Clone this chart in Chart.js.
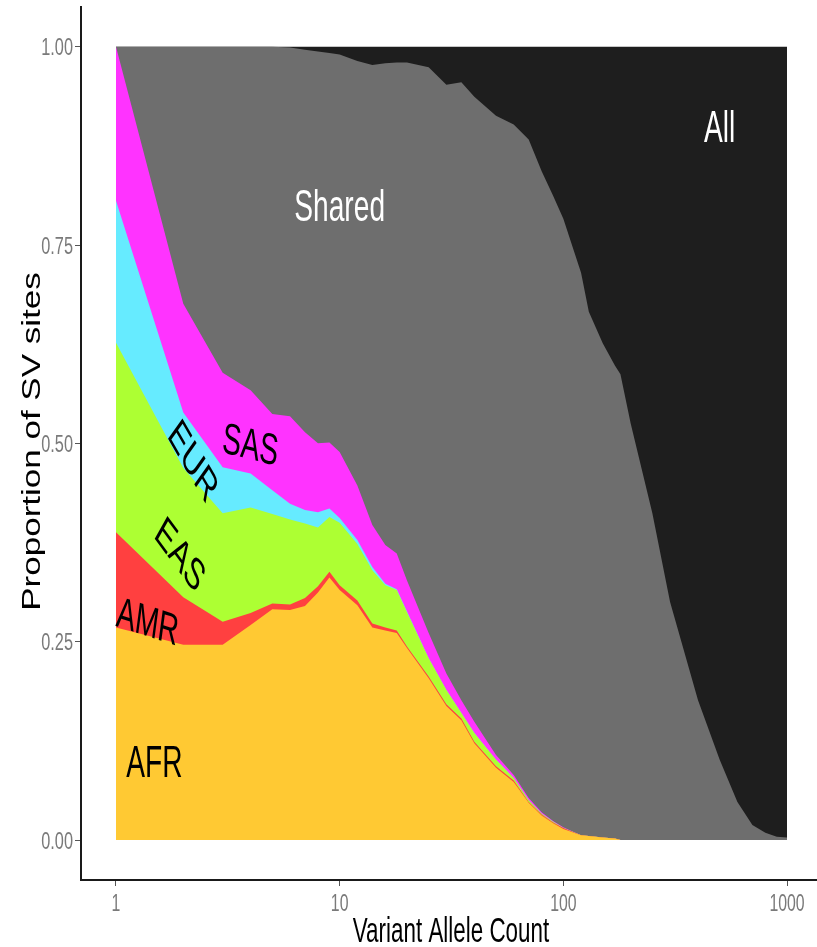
<!DOCTYPE html>
<html>
<head>
<meta charset="utf-8">
<script src="https://cdn.jsdelivr.net/npm/chart.js@4/dist/chart.umd.min.js"></script>
<style>
  html, body { margin: 0; padding: 0; background: #ffffff; overflow: hidden; }
  #wrap { position: relative; width: 817px; height: 947px; }
</style>
</head>
<body>
<div id="wrap"><canvas id="c" width="817" height="947"></canvas></div>
<script>
// Variant allele count (x, log scale)
const alleleCount = [1, 2, 3, 4, 5, 6, 7, 8, 9, 10,
                     12, 14, 16, 18, 20, 25, 30, 35, 40,
                     50, 60, 70, 80, 90, 100, 120, 130, 150, 170, 180,
                     200, 250, 300, 400, 500, 600, 700, 800, 900, 1000];

// Proportion of SV sites in each class, stacked bottom to top
const afr = [0.268, 0.246, 0.246, 0.271, 0.291, 0.290, 0.295, 0.312, 0.331, 0.315,
             0.296, 0.268, 0.264, 0.261, 0.242, 0.204, 0.169, 0.151, 0.122,
             0.091, 0.073, 0.047, 0.031, 0.021, 0.014, 0.006, 0.005, 0.003, 0.002, 0,
             0, 0, 0, 0, 0, 0, 0, 0, 0, 0];
const amr = [0.120, 0.060, 0.029, 0.015, 0.007, 0.007, 0.010, 0.008, 0.007, 0.006,
             0.006, 0.005, 0.004, 0.003, 0.002, 0.002, 0.002, 0.002, 0.002,
             0.002, 0.002, 0.001, 0.001, 0.001, 0.001, 0, 0, 0, 0, 0,
             0, 0, 0, 0, 0, 0, 0, 0, 0, 0];
const eas = [0.239, 0.163, 0.137, 0.133, 0.113, 0.107, 0.094, 0.074, 0.069, 0.079,
             0.071, 0.067, 0.053, 0.051, 0.043, 0.023, 0.018, 0.007, 0.011,
             0.008, 0.003, 0.002, 0.001, 0.001, 0, 0, 0, 0, 0, 0,
             0, 0, 0, 0, 0, 0, 0, 0, 0, 0];
const eur = [0.179, 0.070, 0.058, 0.043, 0.030, 0.020, 0.017, 0.019, 0.011, 0.006,
             0.005, 0.004, 0.002, 0.001, 0.001, 0, 0, 0, 0,
             0, 0, 0, 0, 0, 0, 0, 0, 0, 0, 0,
             0, 0, 0, 0, 0, 0, 0, 0, 0, 0];
const sas = [0.194, 0.137, 0.119, 0.105, 0.096, 0.110, 0.098, 0.087, 0.083, 0.083,
             0.069, 0.053, 0.049, 0.045, 0.039, 0.032, 0.021, 0.016, 0.014,
             0.006, 0.004, 0.003, 0.002, 0.001, 0.001, 0, 0, 0, 0, 0,
             0, 0, 0, 0, 0, 0, 0, 0, 0, 0];
const shared = [0, 0.324, 0.411, 0.433, 0.463, 0.465, 0.482, 0.494, 0.491, 0.501,
                0.535, 0.580, 0.607, 0.619, 0.653, 0.713, 0.742, 0.779, 0.788,
                0.806, 0.820, 0.830, 0.808, 0.788, 0.767, 0.709, 0.661, 0.623, 0.596, 0.587,
                0.525, 0.412, 0.300, 0.176, 0.101, 0.048, 0.019, 0.009, 0.004, 0.003];
const all = [0, 0, 0, 0, 0, 0.001, 0.004, 0.006, 0.008, 0.010,
             0.018, 0.023, 0.021, 0.020, 0.020, 0.026, 0.048, 0.045, 0.063,
             0.087, 0.098, 0.117, 0.157, 0.188, 0.217, 0.285, 0.334, 0.374, 0.402, 0.413,
             0.475, 0.588, 0.700, 0.824, 0.899, 0.952, 0.981, 0.991, 0.996, 0.997];

const groupNames = ['AFR', 'AMR', 'EAS', 'EUR', 'SAS', 'Shared', 'All'];
const groupSeries = [afr, amr, eas, eur, sas, shared, all];
const groupColors = ['#FFC933', '#FF4040', '#ADFF33', '#66EBFF', '#FF33FF', '#6E6E6E', '#1E1E1E'];

// Axis ticks
const xTicks = [1, 10, 100, 1000];
const yTicks = [0, 0.25, 0.5, 0.75, 1];
const yTickText = ['0.00', '0.25', '0.50', '0.75', '1.00'];

// In-plot group labels, anchored in data coordinates
const groupLabels = [
  { text: 'Shared', x: 10,   y: 0.800, color: '#ffffff', angle: 0 },
  { text: 'All',    x: 500,  y: 0.900, color: '#ffffff', angle: 0 },
  { text: 'SAS',    x: 4.0,  y: 0.500, color: '#000000', angle: 9 },
  { text: 'EUR',    x: 2.23, y: 0.479, color: '#000000', angle: 48 },
  { text: 'EAS',    x: 1.95, y: 0.361, color: '#000000', angle: 41 },
  { text: 'AMR',    x: 1.39, y: 0.277, color: '#000000', angle: 11.7 },
  { text: 'AFR',    x: 1.486, y: 0.099, color: '#000000', angle: 0 }
];

const FONT = '"Liberation Sans", Arial, Helvetica, sans-serif';
const NARROW = 0.64;   // horizontal compression of the lettering

function drawNarrowText(ctx, text, px, py, size, color, opts) {
  const o = opts || {};
  ctx.save();
  ctx.translate(px, py);
  ctx.scale(o.sx || NARROW, 1);
  if (o.angle) ctx.rotate(o.angle * Math.PI / 180);
  ctx.font = size + 'px ' + FONT;
  ctx.fillStyle = color;
  ctx.textAlign = o.align || 'center';
  ctx.textBaseline = 'alphabetic';
  ctx.fillText(text, 0, o.dy || 0);
  ctx.restore();
}

const textPlugin = {
  id: 'svText',
  afterDraw(chart) {
    const ctx = chart.ctx;
    const xs = chart.scales.x, ys = chart.scales.y;

    // group labels
    const labelSize = 44;
    groupLabels.forEach(l => {
      drawNarrowText(ctx, l.text, xs.getPixelForValue(l.x), ys.getPixelForValue(l.y),
        labelSize, l.color, { angle: l.angle, dy: labelSize * 0.716 / 2 });
    });

    // tick labels
    const tickSize = 24;
    yTicks.forEach((v, i) => {
      drawNarrowText(ctx, yTickText[i], xs.left - 8, ys.getPixelForValue(v) + tickSize * 0.716 / 2,
        tickSize, '#7a7a7a', { align: 'right', sx: 0.68 });
    });
    xTicks.forEach(v => {
      drawNarrowText(ctx, String(v), xs.getPixelForValue(v), ys.bottom + 31,
        tickSize, '#7a7a7a', { sx: 0.66 });
    });

    // axis titles
    drawNarrowText(ctx, 'Variant Allele Count', (xs.left + xs.right) / 2 + 2, ys.bottom + 62, 35, '#000000', { sx: 0.64 });
    ctx.save();
    ctx.translate(40, (ys.top + ys.bottom) / 2 - 2);
    ctx.scale(0.72, 1);
    ctx.rotate(-Math.PI / 2);
    ctx.font = '35px ' + FONT;
    ctx.fillStyle = '#000000';
    ctx.textAlign = 'center';
    ctx.textBaseline = 'alphabetic';
    ctx.fillText('Proportion of SV sites', 0, 0);
    ctx.restore();
  }
};

const datasets = groupNames.map((name, k) => ({
  label: name,
  data: alleleCount.map((x, i) => ({ x: x, y: groupSeries[k][i] })),
  backgroundColor: groupColors[k],
  borderColor: groupColors[k],
  borderWidth: 0,
  pointRadius: 0,
  tension: 0,
  fill: 'origin'
}));

new Chart(document.getElementById('c'), {
  type: 'line',
  data: { datasets: datasets },
  options: {
    responsive: false,
    animation: false,
    devicePixelRatio: 1,
    layout: { padding: { top: 7, right: 0, bottom: 0, left: 0 } },
    plugins: { legend: { display: false }, tooltip: { enabled: false } },
    scales: {
      x: {
        type: 'logarithmic',
        min: Math.pow(10, -35 / 224),
        max: Math.pow(10, 702 / 224),
        afterFit: s => { s.height = 67; },
        afterBuildTicks: s => { s.ticks = xTicks.map(v => ({ value: v })); },
        ticks: { display: false },
        grid: { drawOnChartArea: false, drawTicks: true, tickLength: 6, color: '#555555', lineWidth: 1 },
        border: { display: true, color: '#1a1a1a', width: 2 }
      },
      y: {
        type: 'linear',
        stacked: true,
        // lower limit chosen so the zero baseline falls on a whole pixel row
        min: -0.05042,
        max: 1.05,
        afterFit: s => { s.width = 81; },
        afterBuildTicks: s => { s.ticks = yTicks.map(v => ({ value: v })); },
        ticks: { display: false },
        grid: { drawOnChartArea: false, drawTicks: true, tickLength: 6, color: '#555555', lineWidth: 1 },
        border: { display: true, color: '#1a1a1a', width: 2 }
      }
    }
  },
  plugins: [textPlugin]
});
</script>
</body>
</html>
